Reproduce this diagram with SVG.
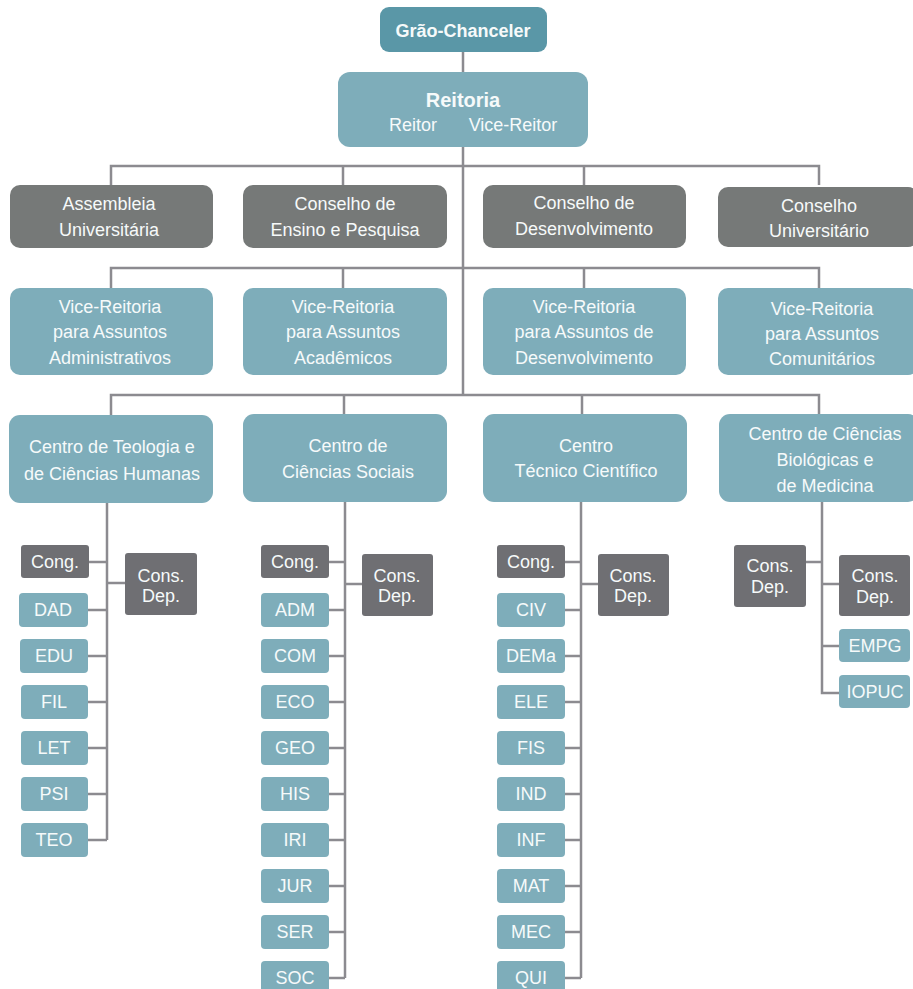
<svg xmlns="http://www.w3.org/2000/svg" width="913" height="989" viewBox="0 0 913 989">
<style>
text{font-family:"Liberation Sans",Arial,sans-serif;fill:#f6fafa;text-anchor:middle;font-size:18px}
.top{fill:#5a97a7}
.teal{fill:#7eadba}
.gray{fill:#767978}
.sg{fill:#6f6f73}
.b{font-weight:bold}
.ln{stroke:#8c8b90;stroke-width:2.5;fill:none}
</style>
<rect width="913" height="989" fill="#ffffff"/>
<g id="connectors" class="ln">
<path d="M463 52V395"/>
<path d="M111 185V166H819V185M343 166V185M584 166V185"/>
<path d="M111 288V268H819V288M343 268V288M584 268V288"/>
<path d="M111 415V395H819V415M344 395V415M582 395V415"/>
<path d="M107 503V840M89 562H107M107 583H125M88 610H107M88 656H107M88 702H107M88 748H107M88 794H107M88 840H107"/>
<path d="M345 502V978M329 562H345M345 584H362M329 610H345M329 656H345M329 702H345M329 748H345M329 794H345M329 840H345M329 886H345M329 932H345M329 978H345"/>
<path d="M581 502V978M565 562H581M581 584H598M565 610H581M565 656H581M565 702H581M565 748H581M565 794H581M565 840H581M565 886H581M565 932H581M565 978H581"/>
<path d="M806 562H822M822 502V693H839M822 584H839M822 646H839"/>
</g>
<g id="grao"><rect class="top" x="380" y="7" width="167" height="45" rx="9"/><text class="b" x="463" y="37">Grão-Chanceler</text></g>
<g id="reitoria"><rect class="teal" x="338" y="72" width="250" height="75" rx="12"/><text class="b" x="463" y="107" style="font-size:20px">Reitoria</text><text x="413" y="131">Reitor</text><text x="513" y="131">Vice-Reitor</text></g>
<g id="assembleia"><rect class="gray" x="10" y="185" width="203" height="63" rx="10"/><text x="109" y="210">Assembleia</text><text x="109" y="236">Universitária</text></g>
<g id="cep"><rect class="gray" x="243" y="185" width="204" height="63" rx="10"/><text x="345" y="210">Conselho de</text><text x="345" y="236">Ensino e Pesquisa</text></g>
<g id="cdes"><rect class="gray" x="483" y="185" width="203" height="63" rx="10"/><text x="584" y="209">Conselho de</text><text x="584" y="235">Desenvolvimento</text></g>
<g id="cuni"><rect class="gray" x="718" y="187" width="200" height="60" rx="10"/><text x="819" y="212">Conselho</text><text x="819" y="237">Universitário</text></g>
<g id="vra"><rect class="teal" x="10" y="288" width="203" height="87" rx="10"/><text x="110" y="313">Vice-Reitoria</text><text x="110" y="338">para  Assuntos</text><text x="110" y="364">Administrativos</text></g>
<g id="vrac"><rect class="teal" x="243" y="288" width="204" height="87" rx="10"/><text x="343" y="313">Vice-Reitoria</text><text x="343" y="338">para Assuntos</text><text x="343" y="364">Acadêmicos</text></g>
<g id="vrd"><rect class="teal" x="483" y="288" width="203" height="87" rx="10"/><text x="584" y="313">Vice-Reitoria</text><text x="584" y="338">para  Assuntos de</text><text x="584" y="364">Desenvolvimento</text></g>
<g id="vrc"><rect class="teal" x="718" y="288" width="200" height="87" rx="10"/><text x="822" y="315">Vice-Reitoria</text><text x="822" y="340">para  Assuntos</text><text x="822" y="365">Comunitários</text></g>
<g id="ctch"><rect class="teal" x="9" y="415" width="204" height="88" rx="11"/><text x="112" y="453">Centro de Teologia e</text><text x="112" y="480">de Ciências Humanas</text></g>
<g id="ccs"><rect class="teal" x="243" y="414" width="204" height="88" rx="11"/><text x="348" y="452">Centro de</text><text x="348" y="478">Ciências Sociais</text></g>
<g id="ctc"><rect class="teal" x="483" y="414" width="204" height="88" rx="11"/><text x="586" y="452">Centro</text><text x="586" y="477">Técnico Científico</text></g>
<g id="ccbm"><rect class="teal" x="719" y="414" width="200" height="88" rx="11"/><text x="825" y="440">Centro de Ciências</text><text x="825" y="466">Biológicas e</text><text x="825" y="492">de Medicina</text></g>
<g id="c1-cong"><rect class="sg" x="21" y="545" width="68" height="33" rx="3"/><text x="55" y="568">Cong.</text></g>
<g id="c1-cons"><rect class="sg" x="125" y="553" width="72" height="62" rx="3"/><text x="161" y="582">Cons.</text><text x="161" y="602">Dep.</text></g>
<g id="c1-dad"><rect class="teal" x="19" y="593" width="69" height="34" rx="4"/><text x="53" y="616">DAD</text></g>
<g id="c1-edu"><rect class="teal" x="20" y="639" width="68" height="34" rx="4"/><text x="54" y="662">EDU</text></g>
<g id="c1-fil"><rect class="teal" x="21" y="685" width="67" height="34" rx="4"/><text x="54" y="708">FIL</text></g>
<g id="c1-let"><rect class="teal" x="21" y="731" width="67" height="34" rx="4"/><text x="54" y="754">LET</text></g>
<g id="c1-psi"><rect class="teal" x="21" y="777" width="67" height="34" rx="4"/><text x="54" y="800">PSI</text></g>
<g id="c1-teo"><rect class="teal" x="21" y="823" width="67" height="34" rx="4"/><text x="54" y="846">TEO</text></g>
<g id="c2-cong"><rect class="sg" x="261" y="545" width="68" height="33" rx="3"/><text x="295" y="568">Cong.</text></g>
<g id="c2-cons"><rect class="sg" x="362" y="554" width="71" height="62" rx="3"/><text x="397" y="582">Cons.</text><text x="397" y="602">Dep.</text></g>
<g id="c2-adm"><rect class="teal" x="261" y="593" width="68" height="34" rx="4"/><text x="295" y="616">ADM</text></g>
<g id="c2-com"><rect class="teal" x="261" y="639" width="68" height="34" rx="4"/><text x="295" y="662">COM</text></g>
<g id="c2-eco"><rect class="teal" x="261" y="685" width="68" height="34" rx="4"/><text x="295" y="708">ECO</text></g>
<g id="c2-geo"><rect class="teal" x="261" y="731" width="68" height="34" rx="4"/><text x="295" y="754">GEO</text></g>
<g id="c2-his"><rect class="teal" x="261" y="777" width="68" height="34" rx="4"/><text x="295" y="800">HIS</text></g>
<g id="c2-iri"><rect class="teal" x="261" y="823" width="68" height="34" rx="4"/><text x="295" y="846">IRI</text></g>
<g id="c2-jur"><rect class="teal" x="261" y="869" width="68" height="34" rx="4"/><text x="295" y="892">JUR</text></g>
<g id="c2-ser"><rect class="teal" x="261" y="915" width="68" height="34" rx="4"/><text x="295" y="938">SER</text></g>
<g id="c2-soc"><rect class="teal" x="261" y="961" width="68" height="34" rx="4"/><text x="295" y="984">SOC</text></g>
<g id="c3-cong"><rect class="sg" x="497" y="545" width="68" height="33" rx="3"/><text x="531" y="568">Cong.</text></g>
<g id="c3-cons"><rect class="sg" x="598" y="554" width="71" height="62" rx="3"/><text x="633" y="582">Cons.</text><text x="633" y="602">Dep.</text></g>
<g id="c3-civ"><rect class="teal" x="497" y="593" width="68" height="34" rx="4"/><text x="531" y="616">CIV</text></g>
<g id="c3-dema"><rect class="teal" x="497" y="639" width="68" height="34" rx="4"/><text x="531" y="662">DEMa</text></g>
<g id="c3-ele"><rect class="teal" x="497" y="685" width="68" height="34" rx="4"/><text x="531" y="708">ELE</text></g>
<g id="c3-fis"><rect class="teal" x="497" y="731" width="68" height="34" rx="4"/><text x="531" y="754">FIS</text></g>
<g id="c3-ind"><rect class="teal" x="497" y="777" width="68" height="34" rx="4"/><text x="531" y="800">IND</text></g>
<g id="c3-inf"><rect class="teal" x="497" y="823" width="68" height="34" rx="4"/><text x="531" y="846">INF</text></g>
<g id="c3-mat"><rect class="teal" x="497" y="869" width="68" height="34" rx="4"/><text x="531" y="892">MAT</text></g>
<g id="c3-mec"><rect class="teal" x="497" y="915" width="68" height="34" rx="4"/><text x="531" y="938">MEC</text></g>
<g id="c3-qui"><rect class="teal" x="497" y="961" width="68" height="34" rx="4"/><text x="531" y="984">QUI</text></g>
<g id="c4-cons1"><rect class="sg" x="734" y="545" width="72" height="62" rx="3"/><text x="770" y="572">Cons.</text><text x="770" y="593">Dep.</text></g>
<g id="c4-cons2"><rect class="sg" x="839" y="555" width="71" height="61" rx="3"/><text x="875" y="582">Cons.</text><text x="875" y="603">Dep.</text></g>
<g id="c4-empg"><rect class="teal" x="839" y="629" width="71" height="33" rx="4"/><text x="875" y="652">EMPG</text></g>
<g id="c4-iopuc"><rect class="teal" x="839" y="675" width="71" height="33" rx="4"/><text x="875" y="698">IOPUC</text></g>
</svg>
